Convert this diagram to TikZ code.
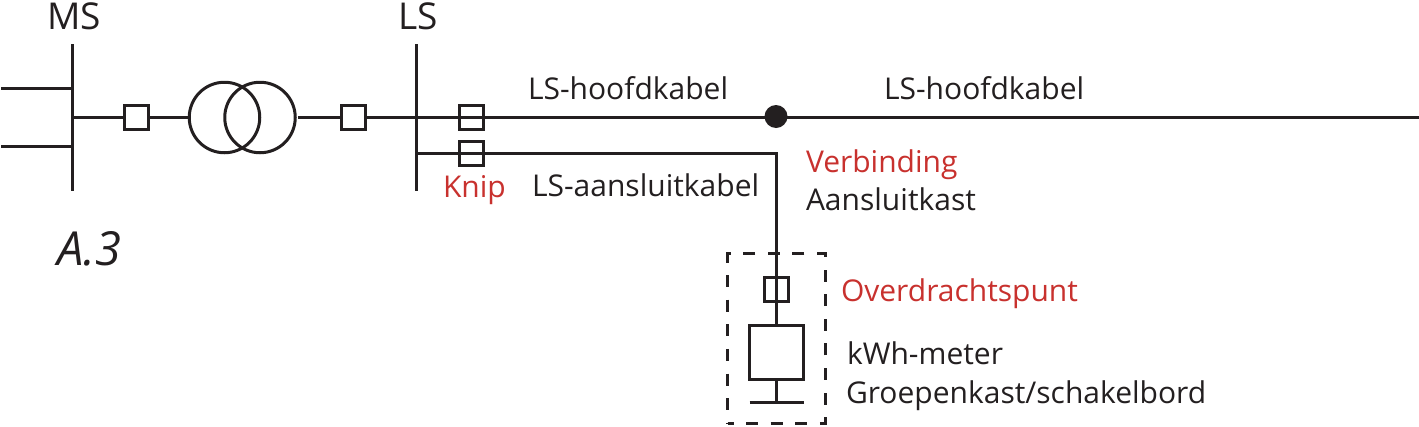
\documentclass[tikz,border=0pt]{standalone}
\usepackage{fontspec}
\usetikzlibrary{calc}
\setmainfont{Open Sans}
\definecolor{ink}{HTML}{231F20}
\definecolor{redtxt}{HTML}{C8312E}
\newcommand{\lab}[1]{\fontsize{#1}{#1}\selectfont}
\tikzset{
  x=1pt,y=-1pt,
  wire/.style={draw=ink,line width=3pt},
  sq/.style={draw=ink,line width=3pt,rectangle,minimum size=24pt,inner sep=0pt,outer sep=0pt},
  ring/.style={draw=ink,line width=3pt,circle,minimum size=70.5pt,inner sep=0pt,outer sep=0pt},
  txt/.style={inner sep=0pt,outer sep=0pt,anchor=base west,text=ink,font=\lab{30}},
  redl/.style={txt,text=redtxt},
  big/.style={txt,font=\lab{37}},
}
\begin{document}
\begin{tikzpicture}
\useasboundingbox (0,0) rectangle (1419,426);
% coordinates
\coordinate (msT) at (72.5,44); \coordinate (msB) at (72.5,191);
\coordinate (lsT) at (416.5,44); \coordinate (lsB) at (416.5,191);
\coordinate (f1a) at (1,88.5); \coordinate (f1b) at (72.5,88.5);
\coordinate (f2a) at (1,146.5); \coordinate (f2b) at (72.5,146.5);
\coordinate (ms0) at (72.5,117.5); \coordinate (ls0) at (416.5,117.5);
\coordinate (ls1) at (416.5,153.5);
\coordinate (endR) at (1419,117.5);
\coordinate (corner) at (776.5,153.5);
\coordinate (gnd1) at (749.5,402.5); \coordinate (gnd2) at (803.5,402.5);
\coordinate (gnd0) at (776.5,402.5);
% shapes
\node[ring] (t1) at (224.5,117.5) {};
\node[ring] (t2) at (260,117.5) {};
\node[sq] (s1) at (136.5,117.5) {};
\node[sq] (s2) at (353.5,117.5) {};
\node[sq] (s3) at (471.5,117.5) {};
\node[sq] (s4) at (471.5,153.5) {};
\node[sq] (s5) at (776.5,289.5) {};
\node[circle,fill=ink,minimum size=23pt,inner sep=0pt] (dot) at (776,116.5) {};
\node[draw=ink,line width=3pt,rectangle,minimum width=54pt,minimum height=54pt,inner sep=0pt,outer sep=0pt] (meter) at (776.5,352.5) {};
\node[draw=ink,line width=3pt,dash pattern=on 12pt off 12.6pt,dash phase=6pt,rectangle,minimum width=98pt,minimum height=170pt,inner sep=0pt,outer sep=0pt] (kast) at (776.5,338.5) {};
% connectors
\draw[wire] (msT) -- (msB);
\draw[wire] (lsT) -- (lsB);
\draw[wire] (f1a) -- (f1b);
\draw[wire] (f2a) -- (f2b);
\draw[wire] (ms0) -- (s1.west);
\draw[wire] (s1.east) -- (t1.west);
\draw[wire] ($(t2.east)+(3,0)$) -- (s2.west);
\draw[wire] (s2.east) -- (ls0);
\draw[wire] (ls0) -- (endR);
\draw[wire] (ls1) -- (corner) -- (meter.north);
\draw[wire] (meter.south) -- (gnd0);
\draw[wire] (gnd1) -- (gnd2);
% labels
\node[big] (ms) at (47,29) {MS};
\node[big] (ls) at (398,29) {LS};
\node[big,font=\lab{47}\itshape] (a3) at (57,265.5) {A.3};
\node[txt] (k1) at (528,99) {LS-hoofdkabel};
\node[txt] (k2) at (884,99) {LS-hoofdkabel};
\node[txt] (k3) at (532,196.5) {LS-aansluitkabel};
\node[redl] (knip) at (443,197.5) {Knip};
\node[redl] (verb) at (806,172) {Verbinding};
\node[txt] (aans) at (806,210) {Aansluitkast};
\node[redl] (over) at (841,301) {Overdrachtspunt};
\node[txt] (kwh) at (847,364) {kWh-meter};
\node[txt] (groe) at (846,403) {Groepenkast/schakelbord};
\end{tikzpicture}
\end{document}
